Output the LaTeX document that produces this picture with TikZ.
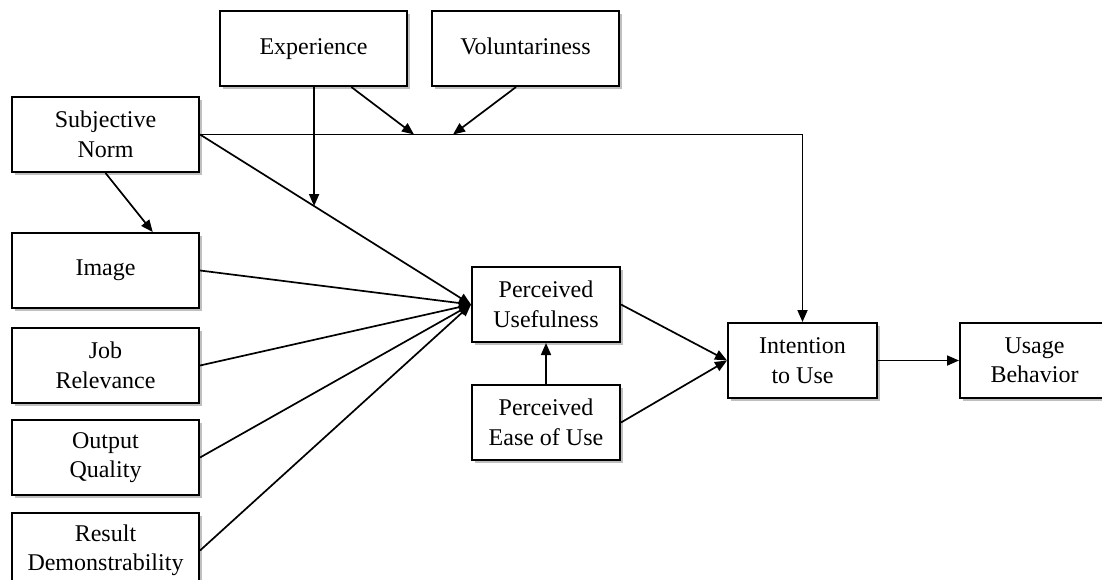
\documentclass[tikz,border=0pt]{standalone}
\usepackage{fontspec}
\setmainfont{Liberation Serif}
\usepackage{tikz}
\usetikzlibrary{arrows.meta,positioning,calc,shadows}
\tikzset{
  factor/.style={draw=black, fill=white, line width=2pt,
                 align=center, inner sep=0pt, minimum width=187pt,
                 minimum height=75pt, font=\fontsize{24}{29.5}\selectfont,
                 drop shadow={shadow xshift=3pt, shadow yshift=-3pt,
                              fill=black!50, opacity=0.5}},
  core/.style={factor, minimum width=148pt},
  flow/.style={-{Triangle[length=12pt,width=10pt]}, line width=1.7pt, draw=black},
}
\begin{document}
\begin{tikzpicture}[x=1pt, y=-1pt]
\useasboundingbox (0,0) rectangle (1102,579);

% ---- external factors ----------------------------------------------
\node[factor] (sn) at (105.5,134.5) {Subjective\\ Norm};
\node[factor, below=59pt of sn]  (img) {Image};
\node[factor, below=18pt of img] (job) {Job\\ Relevance};
\node[factor, below=15pt of job] (out) {Output\\ Quality};
\node[factor, below=16pt of out] (res) {Result\\ Demonstrability};

% ---- moderators ----------------------------------------------------
\node[factor] (exp) at (313.5,48.5) {\strut Experience};
\node[factor, right=23pt of exp] (vol) {\strut Voluntariness};

% ---- TAM core ------------------------------------------------------
\node[core] (pu) at (546,304.5) {Perceived\\ Usefulness};
\node[core, below=41pt of pu] (peou) {Perceived\\ Ease of Use};
\node[core, minimum width=149pt] (int) at (802.5,360.5) {Intention\\ to Use};
\node[core, minimum width=149pt, right=81pt of int] (use) {Usage\\ Behavior};

% ---- moderation points ---------------------------------------------
\coordinate (mexp) at ($(sn.east)!0.421!(pu.west)$);
\coordinate (jexp) at ($(sn.east)+(214,0)$);
\coordinate (jvol) at ($(sn.east)+(253,0)$);

\draw[flow] (sn.east) -| (int.north);
\draw[flow] (sn.south) -- ($(img.north)!0.5!(img.north east)$);
\foreach \f in {sn,img,job,out,res} \draw[flow] (\f.east) -- (pu.west);
\draw[flow] (mexp |- exp.south) -- (mexp);
\draw[flow] ($(exp.south)!0.4!(exp.south east)$) -- (jexp);
\draw[flow] ($(vol.south)!0.1!(vol.south west)$) -- (jvol);
\draw[flow] (peou) -- (pu);
\draw[flow] (pu.east) -- (int.west);
\draw[flow] (peou.east) -- (int.west);
\draw[flow] (int) -- (use);
\end{tikzpicture}
\end{document}
